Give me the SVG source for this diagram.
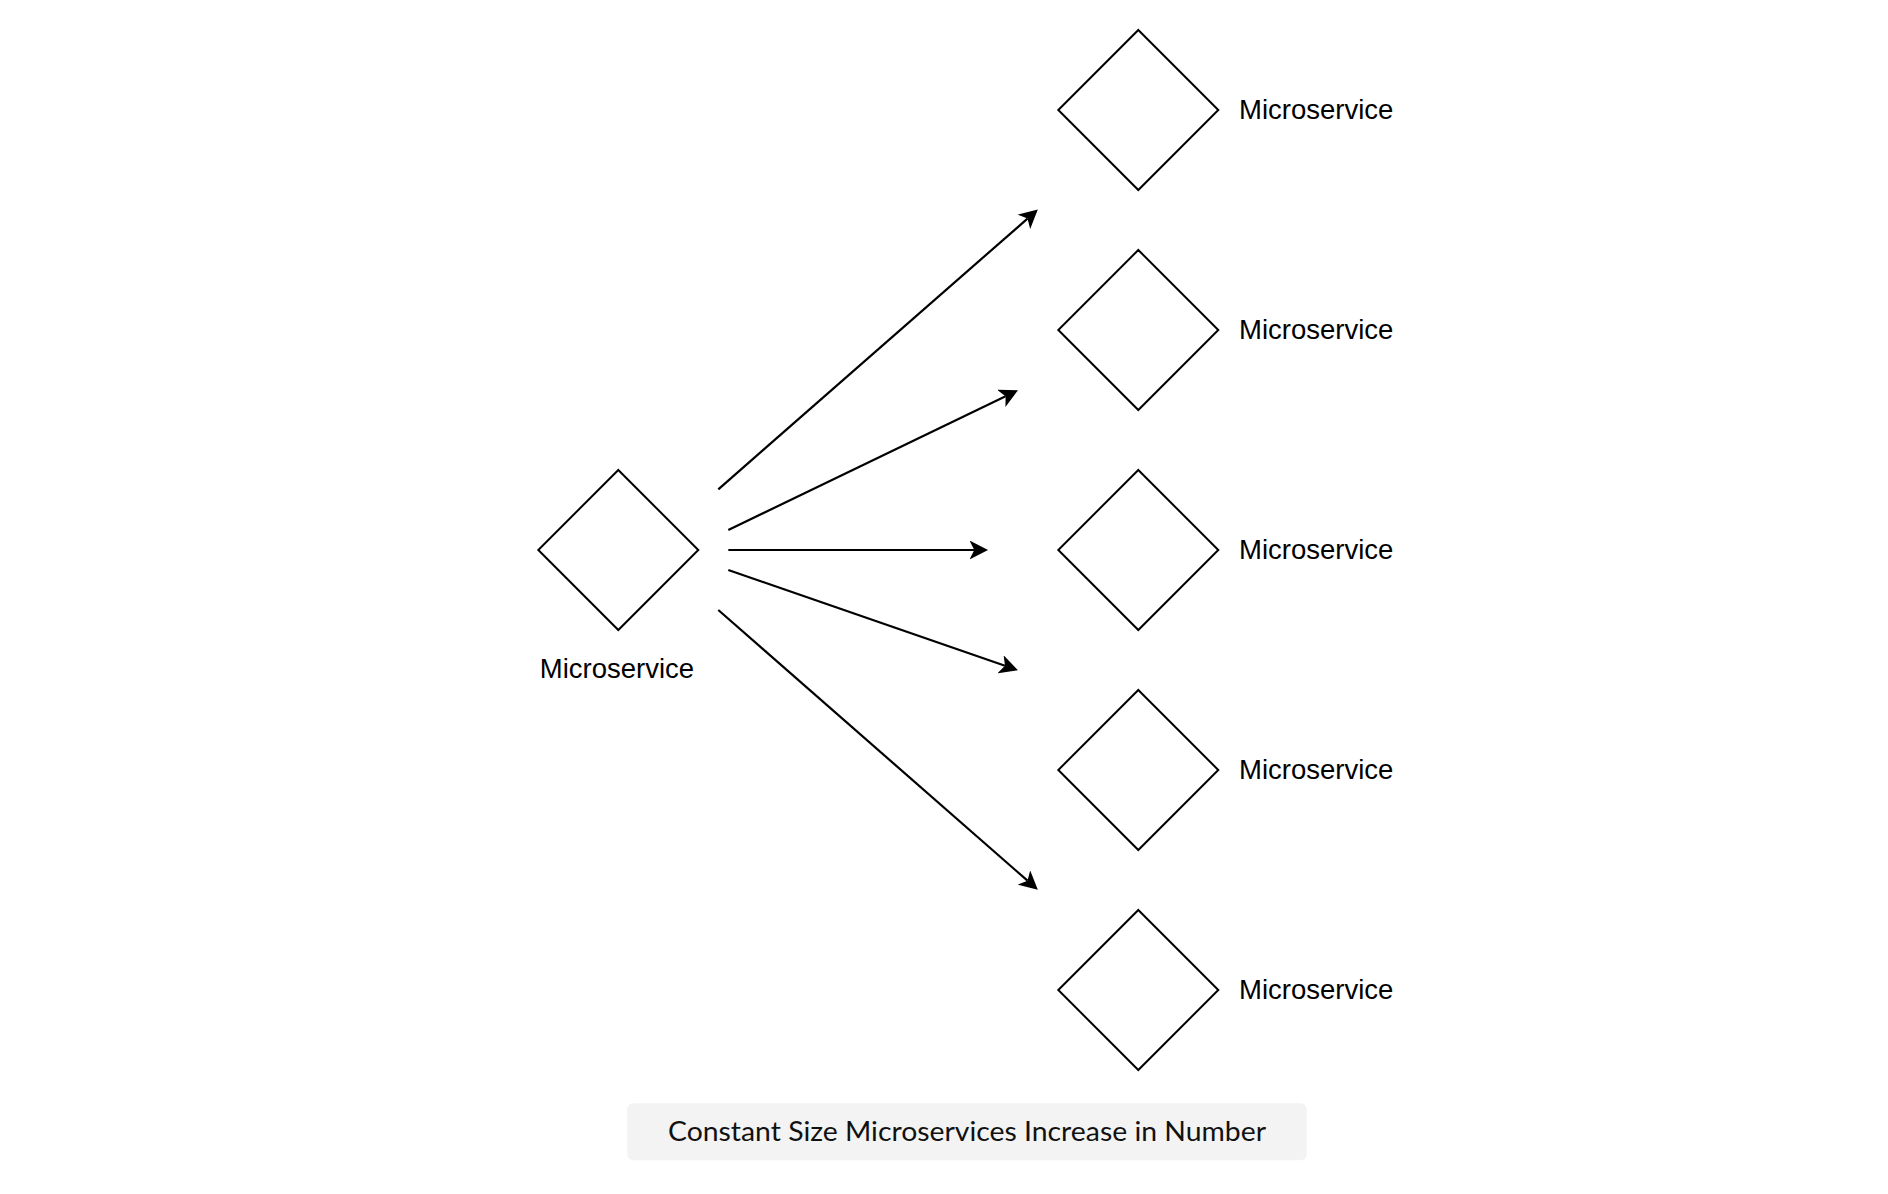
<svg xmlns="http://www.w3.org/2000/svg" width="1888" height="1194" viewBox="0 0 1888 1194">
  <style>
    .shape { fill: #ffffff; stroke: #000000; stroke-width: 2; }
    .edge { fill: none; stroke: #000000; stroke-width: 2.2; }
    .label { font-family: "Liberation Sans", Arial, Helvetica, sans-serif; font-size: 27.5px; fill: #000000; }
    .caption { font-family: "Lato", "Noto Sans", sans-serif; font-size: 27px; fill: #111111; }
  </style>
  <defs>
    <marker id="arrow" markerUnits="userSpaceOnUse" markerWidth="19" markerHeight="19" refX="4.5" refY="9" orient="auto" viewBox="0 0 18 18">
      <path d="M0,0 L17.5,9 L0,18 L4.5,9 Z" fill="#000000"/>
    </marker>
  </defs>
  <rect width="1888" height="1194" fill="#ffffff"/>

  <g id="connectors">
    <line class="edge" x1="718.3" y1="489.3" x2="1027.5" y2="218.6" marker-end="url(#arrow)"/>
    <line class="edge" x1="728.3" y1="530" x2="1005.6" y2="396.3" marker-end="url(#arrow)"/>
    <line class="edge" x1="728.3" y1="550" x2="974.3" y2="550" marker-end="url(#arrow)"/>
    <line class="edge" x1="728.3" y1="570" x2="1005.0" y2="665.8" marker-end="url(#arrow)"/>
    <line class="edge" x1="718.3" y1="610" x2="1027.5" y2="880.7" marker-end="url(#arrow)"/>
  </g>

  <g id="source">
    <polygon class="shape" points="618.3,470 698.3,550 618.3,630 538.3,550"/>
    <text class="label" x="617" y="678" text-anchor="middle">Microservice</text>
  </g>

  <g id="target1">
    <polygon class="shape" points="1138.3,30 1218.3,110 1138.3,190 1058.3,110"/>
    <text class="label" x="1239" y="118.5">Microservice</text>
  </g>
  <g id="target2">
    <polygon class="shape" points="1138.3,250 1218.3,330 1138.3,410 1058.3,330"/>
    <text class="label" x="1239" y="338.5">Microservice</text>
  </g>
  <g id="target3">
    <polygon class="shape" points="1138.3,470 1218.3,550 1138.3,630 1058.3,550"/>
    <text class="label" x="1239" y="558.5">Microservice</text>
  </g>
  <g id="target4">
    <polygon class="shape" points="1138.3,690 1218.3,770 1138.3,850 1058.3,770"/>
    <text class="label" x="1239" y="778.5">Microservice</text>
  </g>
  <g id="target5">
    <polygon class="shape" points="1138.3,910 1218.3,990 1138.3,1070 1058.3,990"/>
    <text class="label" x="1239" y="998.5">Microservice</text>
  </g>

  <g id="caption">
    <rect x="627.3" y="1103.3" width="679.4" height="57" rx="6" ry="6" fill="#f3f3f3"/>
    <text class="caption" x="967" y="1141" text-anchor="middle" textLength="598" lengthAdjust="spacingAndGlyphs">Constant Size Microservices Increase in Number</text>
  </g>
</svg>
